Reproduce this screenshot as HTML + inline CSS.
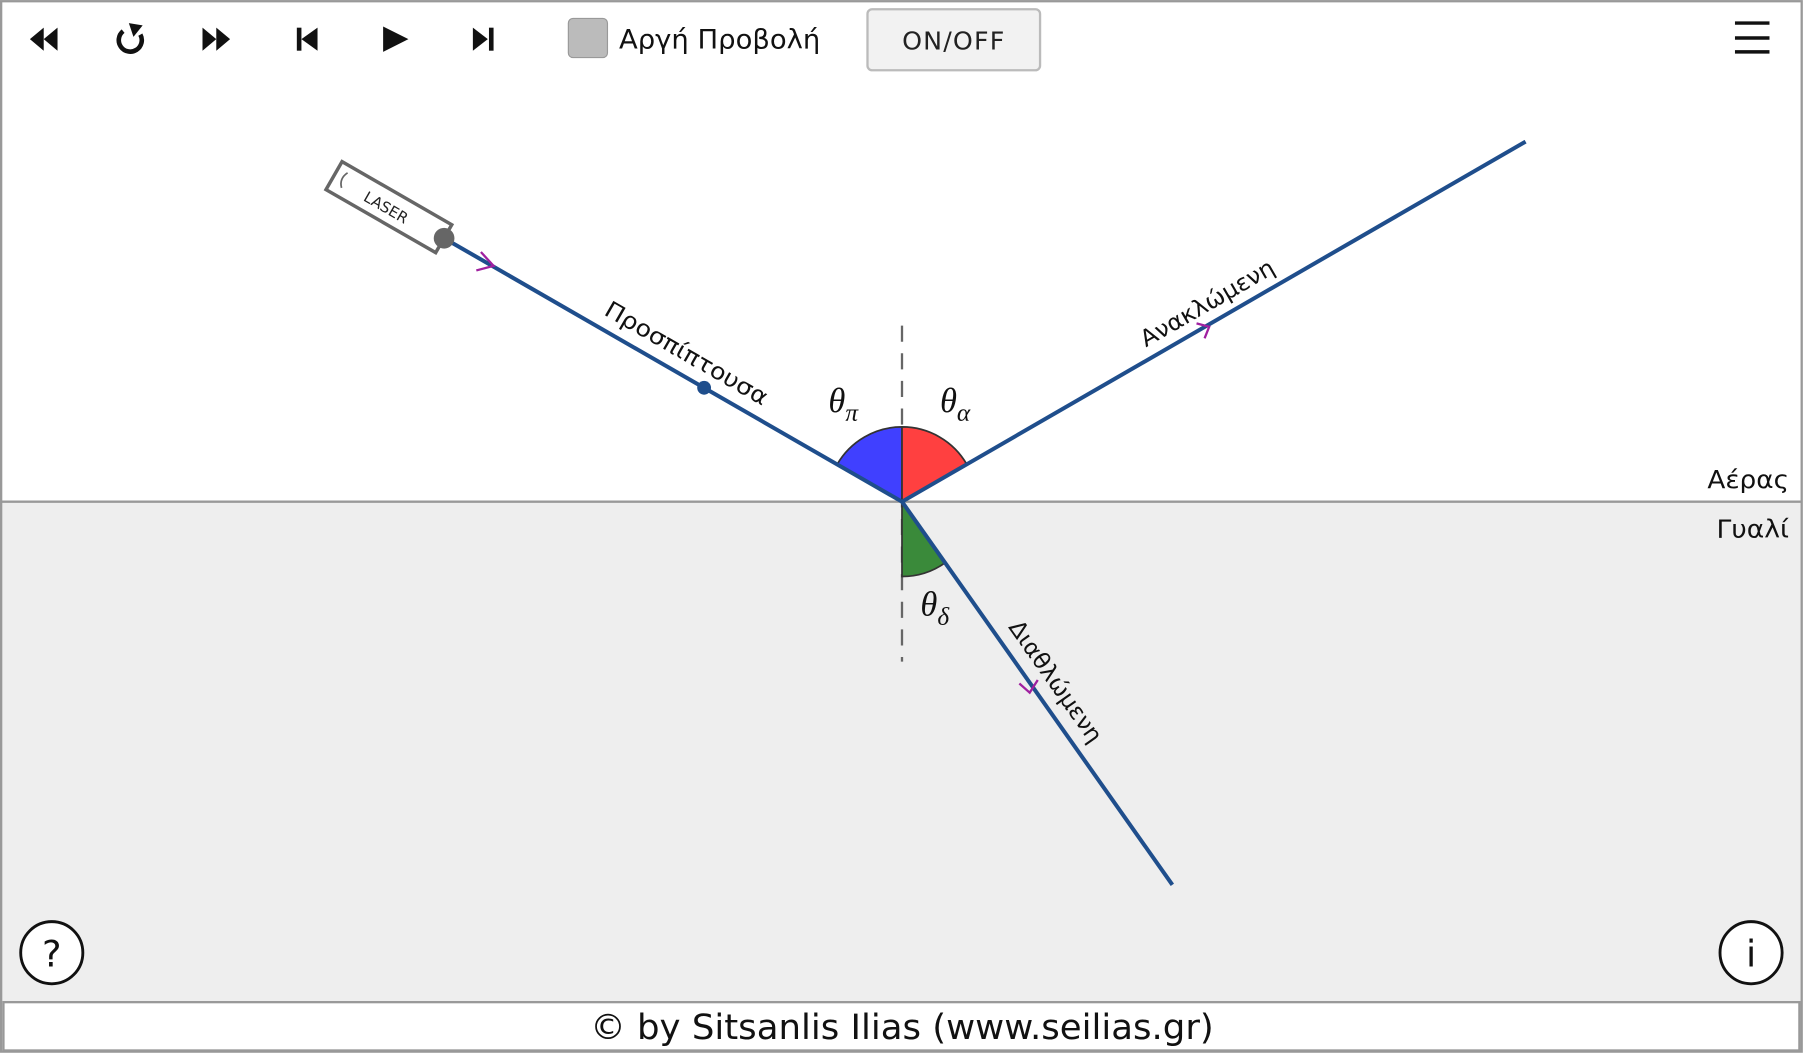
<!DOCTYPE html>
<html><head><meta charset="utf-8"><style>
html,body{margin:0;padding:0;background:#fff;}
svg{display:block;}
text{font-family:"DejaVu Sans","Liberation Sans",sans-serif;}
</style></head><body>
<svg width="1804" height="1054" viewBox="0 0 1568 916" xmlns="http://www.w3.org/2000/svg">
<rect x="0" y="0" width="1568" height="916" fill="#fff"/>
<rect x="1" y="436" width="1565" height="434" fill="#eeeeee"/>
<rect x="1" y="1" width="1565" height="913" fill="none" stroke="#999" stroke-width="2"/>
<line x1="1" y1="436" x2="1566" y2="436" stroke="#999" stroke-width="2"/>
<rect x="3" y="871" width="1561" height="42" fill="#fff" stroke="#999" stroke-width="2"/>
<text x="513" y="903" font-size="30" textLength="542" lengthAdjust="spacingAndGlyphs" fill="#111">© by Sitsanlis Ilias (www.seilias.gr)</text>

<!-- toolbar -->
<g fill="#111">
<polygon points="38,24 38,44 26,34"/><polygon points="50,24 50,44 38,34"/>
<polygon points="176,24 176,44 188,34"/><polygon points="188,24 188,44 200,34"/>
<rect x="258" y="24" width="4" height="20"/><polygon points="276,24 276,44 262,34"/>
<polygon points="333,23 333,45 355,34"/>
<polygon points="411,24 411,44 424,34"/><rect x="425" y="24" width="4" height="20"/>
</g>
<path d="M107,27 A10,10 0 1 0 122,30" fill="none" stroke="#111" stroke-width="4"/>
<polygon points="112,20 124,22 116,32" fill="#111"/>
<rect x="494" y="16" width="34" height="34" rx="4" fill="#bbb" stroke="#999"/>
<text x="538" y="42" font-size="23" textLength="175" lengthAdjust="spacingAndGlyphs" fill="#111">Αργή Προβολή</text>
<rect x="754" y="8" width="150" height="53" rx="4" fill="#f2f2f2" stroke="#bbb" stroke-width="2"/>
<text x="829" y="43" font-size="22" text-anchor="middle" fill="#222" letter-spacing="1">ON/OFF</text>
<g stroke="#111" stroke-width="3"><line x1="1508" y1="20" x2="1538" y2="20"/><line x1="1508" y1="33" x2="1538" y2="33"/><line x1="1508" y1="45" x2="1538" y2="45"/></g>

<text x="1484" y="424" font-size="22" textLength="71" lengthAdjust="spacingAndGlyphs" fill="#111">Αέρας</text>
<text x="1492" y="467" font-size="22" textLength="63" lengthAdjust="spacingAndGlyphs" fill="#111">Γυαλί</text>

<line x1="784" y1="283" x2="784" y2="575" stroke="#666" stroke-width="2" stroke-dasharray="14,10"/>

<path d="M784,436 L727.6,403.6 A65,65 0 0 1 784,371 Z" fill="#4040ff" stroke="#333" stroke-width="1.5"/>
<path d="M784,436 L784,371 A65,65 0 0 1 840.4,403.6 Z" fill="#ff4040" stroke="#333" stroke-width="1.5"/>
<path d="M784,436 L784,501 A65,65 0 0 0 821.5,489.1 Z" fill="#3a8a3a" stroke="#333" stroke-width="1.5"/>

<g stroke="#1f4e8c" stroke-width="3.5" fill="none">
<line x1="386" y1="207" x2="784" y2="436"/>
<line x1="784" y1="436" x2="1326" y2="123"/>
<line x1="784" y1="436" x2="1019" y2="769"/>
</g>
<circle cx="612" cy="337" r="6" fill="#1f4e8c"/>

<g stroke="#a020a0" stroke-width="2" fill="none">
<path d="M418,219 L429,231 L414,235" />
<path d="M1040,281 L1051,284 L1047,294" />
<path d="M886,594 L895,602 L902,591" />
</g>

<g transform="translate(338,180) rotate(29.9)">
<rect x="-55" y="-14" width="110" height="28" fill="#fff" stroke="#666" stroke-width="3"/>
<path d="M-46,-8 q-4,8 2,14" stroke="#666" fill="none" stroke-width="1.5"/>
<text x="-2" y="6" font-size="13" text-anchor="middle" fill="#222">LASER</text>
</g>
<circle cx="386" cy="207" r="9" fill="#666"/>

<text transform="translate(524,273) rotate(29.9)" font-size="20" textLength="160" lengthAdjust="spacingAndGlyphs" fill="#111">Προσπίπτουσα</text>
<text transform="translate(996,302) rotate(-30)" font-size="20" textLength="131" lengthAdjust="spacingAndGlyphs" fill="#111">Ανακλώμενη</text>
<text transform="translate(876,545) rotate(54.8)" font-size="20" textLength="125" lengthAdjust="spacingAndGlyphs" fill="#111">Διαθλώμενη</text>

<g font-style="italic" fill="#111">
<text x="720" y="358" font-size="30" style="font-family:'Liberation Serif',serif">θ<tspan font-size="22" dy="8">π</tspan></text>
<text x="817" y="358" font-size="30" style="font-family:'Liberation Serif',serif">θ<tspan font-size="22" dy="8">α</tspan></text>
<text x="800" y="535" font-size="30" style="font-family:'Liberation Serif',serif">θ<tspan font-size="22" dy="8">δ</tspan></text>
</g>

<circle cx="45" cy="828" r="27" fill="#fff" stroke="#111" stroke-width="2.5"/>
<text x="45" y="840" font-size="32" text-anchor="middle" fill="#111">?</text>
<circle cx="1522" cy="828" r="27" fill="#fff" stroke="#111" stroke-width="2.5"/>
<text x="1522" y="840" font-size="32" text-anchor="middle" fill="#111">i</text>
</svg>
</body></html>
